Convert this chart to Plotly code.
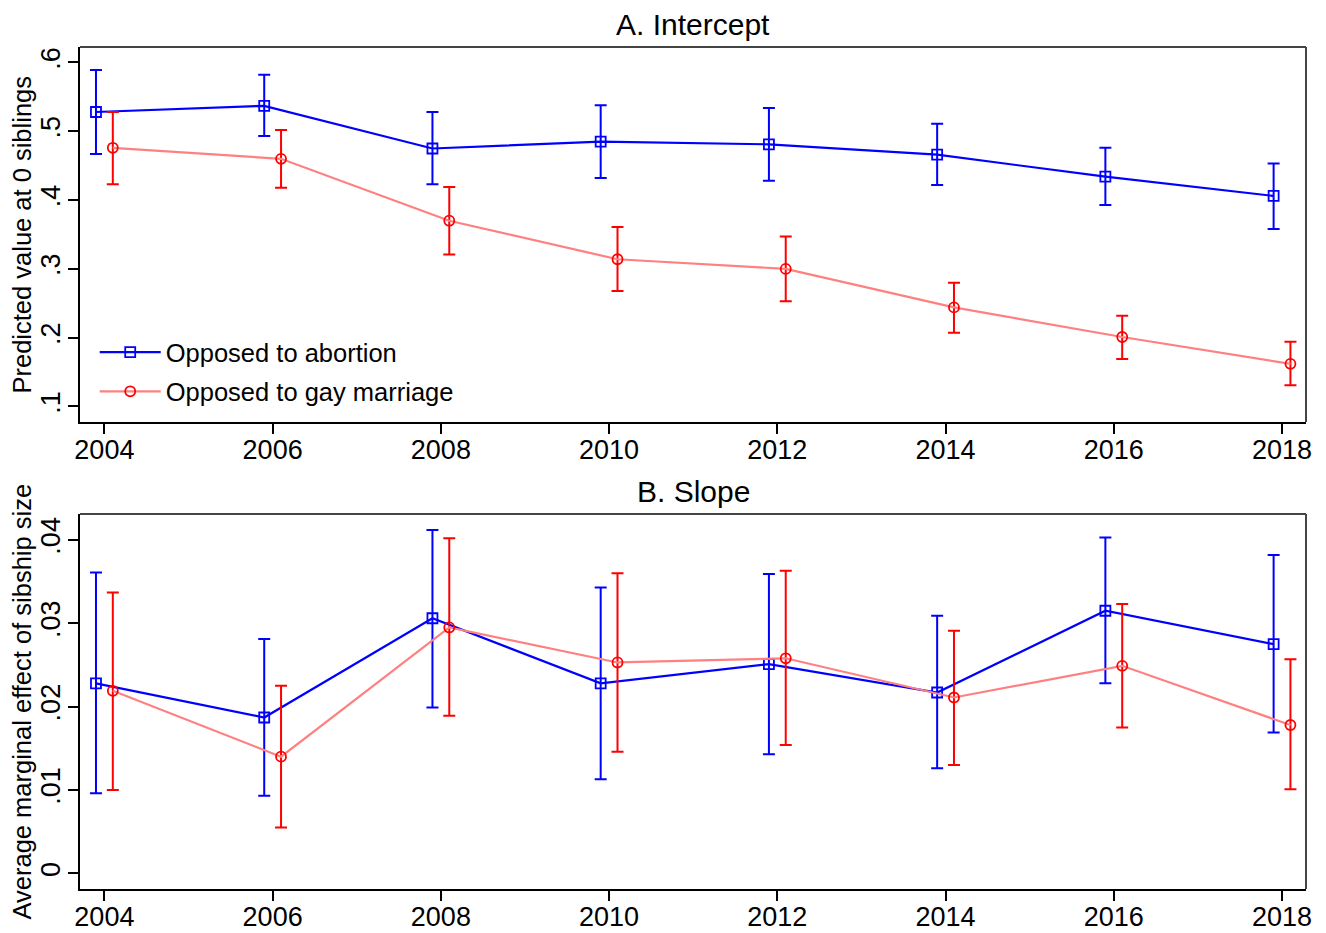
import plotly.graph_objects as go

years = [2004, 2006, 2008, 2010, 2012, 2014, 2016, 2018]

# Panel A: intercept (predicted value at 0 siblings)
abort_int = [0.528, 0.537, 0.475, 0.485, 0.481, 0.466, 0.434, 0.406]
abort_int_lo = [0.467, 0.493, 0.423, 0.432, 0.428, 0.422, 0.393, 0.358]
abort_int_hi = [0.589, 0.582, 0.528, 0.538, 0.534, 0.511, 0.476, 0.453]

gay_int = [0.476, 0.460, 0.370, 0.314, 0.300, 0.244, 0.201, 0.162]
gay_int_lo = [0.423, 0.418, 0.321, 0.268, 0.253, 0.207, 0.169, 0.131]
gay_int_hi = [0.528, 0.502, 0.419, 0.361, 0.347, 0.280, 0.232, 0.194]

# Panel B: slope (average marginal effect of sibship size)
abort_slope = [0.0228, 0.0187, 0.0306, 0.0228, 0.0251, 0.0217, 0.0315, 0.0275]
abort_slope_lo = [0.0096, 0.0093, 0.0199, 0.0113, 0.0143, 0.0126, 0.0228, 0.0169]
abort_slope_hi = [0.0361, 0.0281, 0.0412, 0.0343, 0.0359, 0.0309, 0.0403, 0.0382]

gay_slope = [0.0219, 0.0140, 0.0295, 0.0253, 0.0258, 0.0211, 0.0249, 0.0178]
gay_slope_lo = [0.0100, 0.0055, 0.0189, 0.0146, 0.0154, 0.0130, 0.0175, 0.0101]
gay_slope_hi = [0.0337, 0.0225, 0.0402, 0.0360, 0.0363, 0.0291, 0.0323, 0.0257]

x_ticks = [2004, 2006, 2008, 2010, 2012, 2014, 2016, 2018]
y1_ticks = [0.1, 0.2, 0.3, 0.4, 0.5, 0.6]
y1_labels = [".1", ".2", ".3", ".4", ".5", ".6"]
y2_ticks = [0, 0.01, 0.02, 0.03, 0.04]
y2_labels = ["0", ".01", ".02", ".03", ".04"]

FONT = "Liberation Sans, Arial, Helvetica, sans-serif"
BLUE = "#0000FF"
RED = "#FF0000"
SALMON = "#FF8080"
DODGE = 0.1

xb = [y - DODGE for y in years]
xr = [y + DODGE for y in years]


def err(c, lo, hi, color):
    return dict(type="data", symmetric=False,
                array=[h - v for h, v in zip(hi, c)],
                arrayminus=[v - l for v, l in zip(c, lo)],
                color=color, thickness=2, width=6)


fig = go.Figure()

fig.add_trace(go.Scatter(
    x=xb, y=abort_int, mode="lines+markers", name="Opposed to abortion",
    line=dict(color=BLUE, width=2.2),
    marker=dict(symbol="square-open", size=10, color=BLUE, line=dict(width=1.8, color=BLUE)),
    error_y=err(abort_int, abort_int_lo, abort_int_hi, BLUE),
    xaxis="x", yaxis="y", legendgroup="a"))
fig.add_trace(go.Scatter(
    x=xr, y=gay_int, mode="lines+markers", name="Opposed to gay marriage",
    line=dict(color=SALMON, width=2.2),
    marker=dict(symbol="circle-open", size=10, color=RED, line=dict(width=1.8, color=RED)),
    error_y=err(gay_int, gay_int_lo, gay_int_hi, RED),
    xaxis="x", yaxis="y", legendgroup="b"))

fig.add_trace(go.Scatter(
    x=xb, y=abort_slope, mode="lines+markers", name="Opposed to abortion",
    line=dict(color=BLUE, width=2.2),
    marker=dict(symbol="square-open", size=10, color=BLUE, line=dict(width=1.8, color=BLUE)),
    error_y=err(abort_slope, abort_slope_lo, abort_slope_hi, BLUE),
    xaxis="x2", yaxis="y2", showlegend=False))
fig.add_trace(go.Scatter(
    x=xr, y=gay_slope, mode="lines+markers", name="Opposed to gay marriage",
    line=dict(color=SALMON, width=2.2),
    marker=dict(symbol="circle-open", size=10, color=RED, line=dict(width=1.8, color=RED)),
    error_y=err(gay_slope, gay_slope_lo, gay_slope_hi, RED),
    xaxis="x2", yaxis="y2", showlegend=False))

axis_common = dict(showgrid=False, zeroline=False, showline=True, linecolor="black",
                   linewidth=2, ticks="outside", ticklen=10, tickwidth=1.5,
                   tickcolor="black", automargin=False,
                   tickfont=dict(family=FONT, size=27, color="black"))

top_dom = [0.5546, 1.0]
bot_dom = [0.0, 0.4454]
xr_range = [2003.71, 2018.285]

fig.update_layout(
    width=1326, height=933,
    margin=dict(l=80, r=20, t=47, b=44, autoexpand=False),
    paper_bgcolor="white", plot_bgcolor="white",
    font=dict(family=FONT, size=25, color="black"),
    xaxis=dict(domain=[0, 1], anchor="y", range=xr_range, tickvals=x_ticks,
               ticktext=[str(t) for t in x_ticks], ticklabelstandoff=-7, **axis_common),
    yaxis=dict(domain=top_dom, anchor="x", range=[0.0774, 0.6225], tickvals=y1_ticks,
               ticktext=y1_labels, tickangle=-90, ticklabelstandoff=-3, **axis_common),
    xaxis2=dict(domain=[0, 1], anchor="y2", range=xr_range, tickvals=x_ticks,
                ticktext=[str(t) for t in x_ticks], ticklabelstandoff=-7, **axis_common),
    yaxis2=dict(domain=bot_dom, anchor="x2", range=[-0.00187, 0.04311], tickvals=y2_ticks,
                ticktext=y2_labels, tickangle=-90, ticklabelstandoff=-3, **axis_common),
    legend=dict(x=0.012, y=0.665, xanchor="left", yanchor="top",
                bgcolor="rgba(0,0,0,0)", font=dict(family=FONT, size=25.5, color="black"),
                tracegroupgap=3, itemwidth=61),
    showlegend=True,
)

# Gray top/right frame edges
for xa, ya in (("x", "y"), ("x2", "y2")):
    fig.add_shape(type="line", xref=f"{xa} domain", yref=f"{ya} domain",
                  x0=0, x1=1, y0=1, y1=1, line=dict(color="#444444", width=2))
    fig.add_shape(type="line", xref=f"{xa} domain", yref=f"{ya} domain",
                  x0=1, x1=1, y0=0, y1=1, line=dict(color="#444444", width=2))

# Panel titles
fig.add_annotation(text="A. Intercept", xref="paper", yref="paper", x=0.5, y=1.0,
                   xanchor="center", yanchor="bottom", yshift=4, showarrow=False,
                   font=dict(family=FONT, size=30, color="black"))
fig.add_annotation(text="B. Slope", xref="paper", yref="paper", x=0.5, y=bot_dom[1],
                   xanchor="center", yanchor="bottom", yshift=4, showarrow=False,
                   font=dict(family=FONT, size=30, color="black"))

# Y axis titles
fig.add_annotation(text="Predicted value at 0 siblings", xref="paper", yref="paper",
                   x=-0.0473, y=(top_dom[0] + top_dom[1]) / 2, textangle=-90,
                   xanchor="center", yanchor="middle", showarrow=False,
                   font=dict(family=FONT, size=25.5, color="black"))
fig.add_annotation(text="Average marginal effect of sibship size", xref="paper", yref="paper",
                   x=-0.0473, y=(bot_dom[0] + bot_dom[1]) / 2, textangle=-90,
                   xanchor="center", yanchor="middle", showarrow=False,
                   font=dict(family=FONT, size=25.5, color="black"))

fig.write_html("out.html")
